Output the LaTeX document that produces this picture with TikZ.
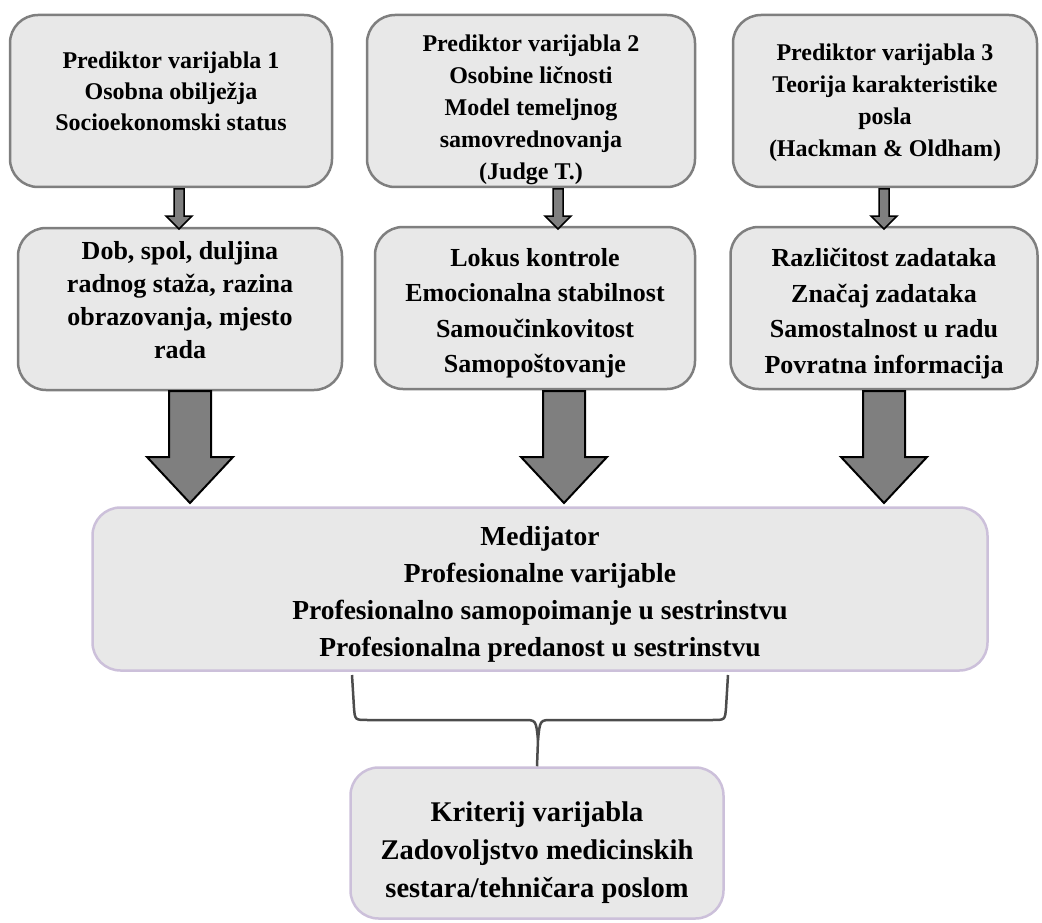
\documentclass[tikz,border=0pt]{standalone}
\usepackage{fontspec}
\setmainfont{Liberation Serif}
\usetikzlibrary{positioning}
\definecolor{boxfill}{HTML}{E8E8E8}
\definecolor{boxline}{HTML}{7F7F7F}
\definecolor{lilac}{HTML}{CCC0DA}
\definecolor{arrowgray}{HTML}{7F7F7F}
\tikzset{
  pbox/.style={draw=boxline,line width=2.5pt,fill=boxfill,rounded corners=28pt,inner sep=0pt},
  mbox/.style={draw=lilac,line width=2.5pt,fill=boxfill,rounded corners=28pt,inner sep=0pt},
  ptext/.style={align=center,inner sep=0pt,anchor=north,font=\bfseries\fontsize{24}{32}\selectfont},
  ltext/.style={align=center,inner sep=0pt,anchor=north,font=\bfseries\fontsize{26}{35.5}\selectfont},
  blockarrow/.style={draw=black,line width=2pt,fill=arrowgray,line join=miter},
  bracket/.style={draw=black!70,line width=2.5pt}
}
\begin{document}
\begin{tikzpicture}[x=1pt,y=-1pt]
\useasboundingbox (0,0) rectangle (1042,923);

% prediktori
\node[pbox,minimum width=322pt,minimum height=172pt] (p1) at (171,101) {};
\node[pbox,minimum width=328pt,minimum height=172pt] (p2) at (531,101) {};
\node[pbox,minimum width=304pt,minimum height=172pt] (p3) at (885,101) {};
\node[ptext,font=\bfseries\fontsize{24}{31}\selectfont] (p1txt) at (171,52) {Prediktor varijabla 1\\Osobna obilježja\\Socioekonomski status};
\node[ptext] (p2txt) at (531,35) {Prediktor varijabla 2\\Osobine ličnosti\\Model temeljnog\\samovrednovanja\\(Judge T.)};
\node[ptext] (p3txt) at (885,44) {Prediktor varijabla 3\\Teorija karakteristike\\posla\\(Hackman \& Oldham)};

% dimenzije
\node[pbox,minimum width=324pt,minimum height=162pt] (d1) at (180,309) {};
\node[pbox,minimum width=320pt,minimum height=162pt] (d2) at (535,308) {};
\node[pbox,minimum width=307pt,minimum height=162pt] (d3) at (884,308) {};
\node[ltext,font=\bfseries\fontsize{26}{33}\selectfont] (d1txt) at (180,241) {Dob, spol, duljina\\radnog staža, razina\\obrazovanja, mjesto\\rada};
\node[ltext] (d2txt) at (535,248) {Lokus kontrole\\Emocionalna stabilnost\\Samoučinkovitost\\Samopoštovanje};
\node[ltext] (d3txt) at (884,248) {Različitost zadataka\\Značaj zadataka\\Samostalnost u radu\\Povratna informacija};

% medijator i kriterij
\node[mbox,minimum width=895pt,minimum height=163pt] (med) at (540,589) {};
\node[ltext,font=\bfseries\fontsize{27.5}{37}\selectfont] (medtxt) at (540,526) {Medijator\\Profesionalne varijable\\Profesionalno samopoimanje u sestrinstvu\\Profesionalna predanost u sestrinstvu};
\node[mbox,minimum width=373pt,minimum height=151pt] (krit) at (537,843) {};
\node[ltext,font=\bfseries\fontsize{28.5}{38}\selectfont] (krittxt) at (537,802) {Kriterij varijabla\\Zadovoljstvo medicinskih\\sestara/tehničara poslom};

% male strelice
\foreach \x in {179,558,884}
  \draw[blockarrow,line width=1.5pt] ({\x-5},189) -- ({\x+5},189) -- ({\x+5},216) -- ({\x+13},216)
    -- (\x,229) -- ({\x-13},216) -- ({\x-5},216) -- cycle;

% velike strelice
\foreach \x in {190,564,884}
  \draw[blockarrow] ({\x-21},391) -- ({\x+21},391) -- ({\x+21},457) -- ({\x+43},457)
    -- (\x,503) -- ({\x-43},457) -- ({\x-21},457) -- cycle;

% zagrada
\draw[bracket] (352,675) -- (354,708) .. controls (355,720) .. (368,720) -- (524,720)
  .. controls (536,720) .. (538,740) -- (krit.north);
\draw[bracket] (728,675) -- (726,708) .. controls (725,720) .. (712,720) -- (552,720)
  .. controls (540,720) .. (538,740);

\end{tikzpicture}
\end{document}
